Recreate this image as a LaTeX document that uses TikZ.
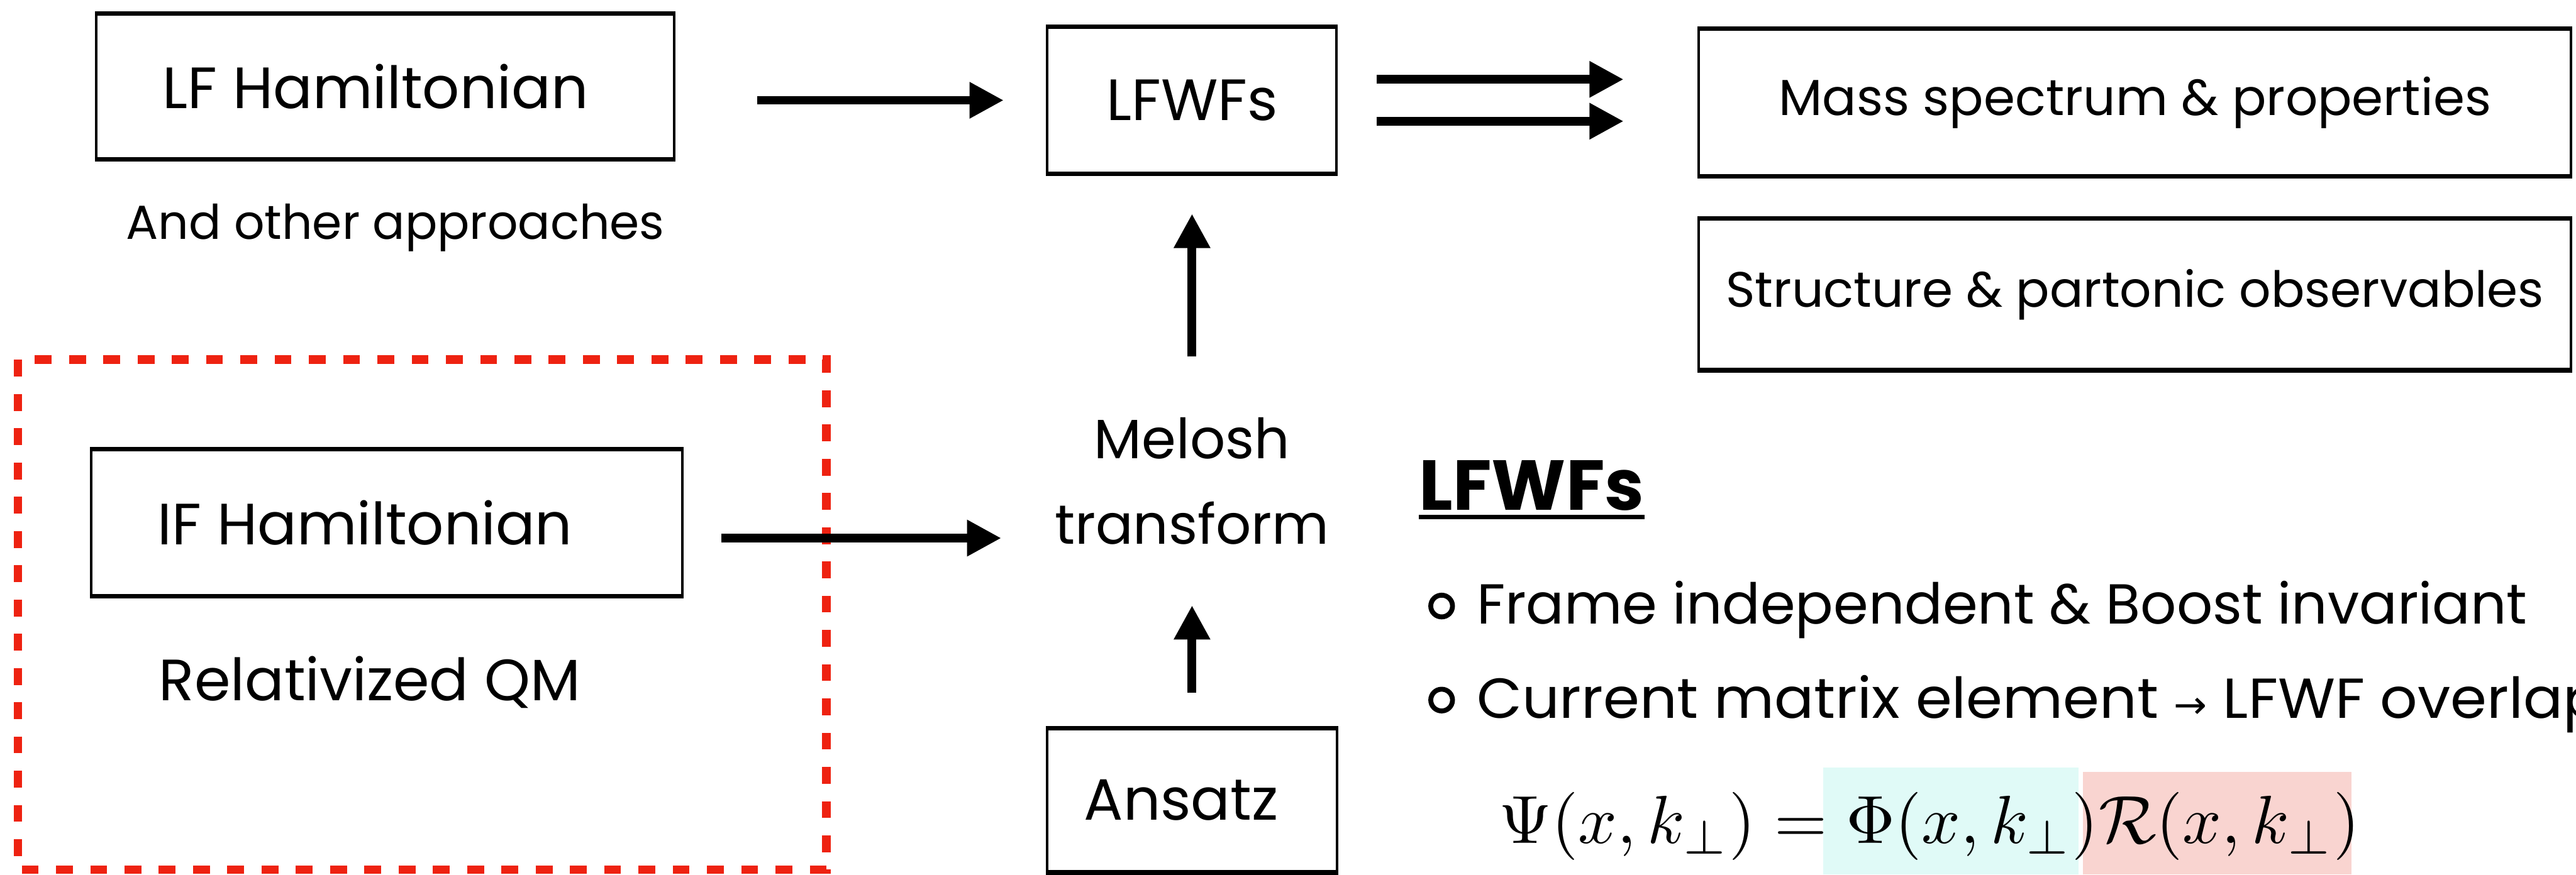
\documentclass[tikz,border=0pt]{standalone}
\usepackage[no-math]{fontspec}
\usepackage{graphicx}
\setmainfont{Poppins}
\newfontfamily\symbfont{DejaVu Sans}
\usetikzlibrary{arrows.meta,positioning}
\definecolor{dashred}{RGB}{238,34,17}
\definecolor{phicol}{RGB}{224,250,247}
\definecolor{rcol}{RGB}{249,212,208}
\tikzset{
  roughbox/.style={draw=black,line width=1.3pt,inner sep=0pt,font=\fontsize{30.5}{36}\selectfont,
    path picture={\draw[line width=3.4pt] (path picture bounding box.north west) -- (path picture bounding box.north east)
      (path picture bounding box.south west) -- (path picture bounding box.south east);}},
  bigarrow/.style={line width=0.16cm,-{Triangle[length=0.63cm,width=0.63cm]}},
  plaintext/.style={inner sep=0pt,anchor=base west,font=\fontsize{29.5}{34}\selectfont},
}
\begin{document}
\begin{tikzpicture}
\useasboundingbox (0,0) rectangle (47.37,-16.09);
\fill[phicol] (33.53,-14.12) rectangle (38.22,-16.09);
\fill[rcol] (38.30,-14.20) rectangle (43.24,-16.09);
\draw[dashred,line width=0.16cm,dash pattern=on 0.31cm off 0.32cm] (0.33,-6.62) rectangle (15.20,-16.00);

\node[roughbox,minimum width=10.63cm,minimum height=2.72cm] (lfh) at (7.085,-1.59) {LF Hamiltonian\hspace*{0.36cm}};
\node[inner sep=0pt,anchor=base,font=\fontsize{25}{30}\selectfont] (other) at (7.27,-4.40) {And other approaches};
\node[roughbox,minimum width=10.87cm,minimum height=2.75cm] (ifh) at (7.115,-9.615) {IF Hamiltonian\hspace*{0.8cm}};
\node[inner sep=0pt,anchor=base,font=\fontsize{30.5}{36}\selectfont] (relqm) at (6.80,-12.89) {Relativized QM};

\node[roughbox,minimum width=5.32cm,minimum height=2.75cm] (lfwf) at (21.92,-1.845) {LFWFs};
\node[align=center,minimum width=7cm,minimum height=4.56cm,inner sep=0pt,font=\fontsize{29}{45}\selectfont] (melosh) at (21.92,-8.85) {Melosh\\transform};
\node[roughbox,minimum width=5.33cm,minimum height=2.69cm] (ansatz) at (21.92,-14.725) {Ansatz\hspace*{0.4cm}};

\node[roughbox,font=\fontsize{26.5}{32}\selectfont,minimum width=16.04cm,minimum height=2.75cm] (mass) at (39.26,-1.885) {Mass spectrum \& properties};
\node[roughbox,font=\fontsize{26}{32}\selectfont,minimum width=16.04cm,minimum height=2.83cm] (struct) at (39.26,-5.415) {Structure \& partonic observables};

\coordinate (rowif) at (0,-9.90);
\draw[bigarrow,shorten <=1.50cm,shorten >=0.78cm] (lfh.east |- lfwf.west) -- (lfwf.west);
\foreach \dy in {0.385,-0.385}
  \draw[bigarrow,shorten <=0.71cm,shorten >=1.36cm] ([yshift=\dy cm]lfwf.east) -- ([yshift=\dy cm]lfwf.east -| mass.west);
\draw[bigarrow,shorten <=0.69cm] (ifh.east |- rowif) -- (melosh.west |- rowif);
\draw[bigarrow,shorten <=0.61cm] (ansatz.north) -- (melosh.south);
\draw[bigarrow,shorten >=0.69cm] (melosh.north) -- (lfwf.south);

\node[inner sep=0pt,anchor=base west,font=\bfseries\fontsize{37}{40}\selectfont] (head) at (26.09,-9.39) {LFWFs};
\draw[line width=0.08cm] ([yshift=-0.12cm]head.base west) -- ([yshift=-0.12cm]head.base east);
\node[draw,circle,line width=0.09cm,minimum size=0.40cm,inner sep=0pt] (b1) at (26.51,-11.15) {};
\node[plaintext] (t1) at (27.15,-11.48) {Frame independent \& Boost invariant};
\node[draw,circle,line width=0.09cm,minimum size=0.40cm,inner sep=0pt] (b2) at (26.51,-12.88) {};
\node[plaintext] (t2) at (27.15,-13.21) {\scalebox{1.04}[1]{Current matrix element {\symbfont\fontsize{20}{20}\selectfont →} LFWF overlap}};
\node[inner sep=0pt,anchor=base west] (psi) at (27.56,-15.52) {\scalebox{3.56}{$\Psi(x,k_\perp)=\Phi(x,k_\perp)\mathcal{R}(x,k_\perp)$}};
\end{tikzpicture}
\end{document}
